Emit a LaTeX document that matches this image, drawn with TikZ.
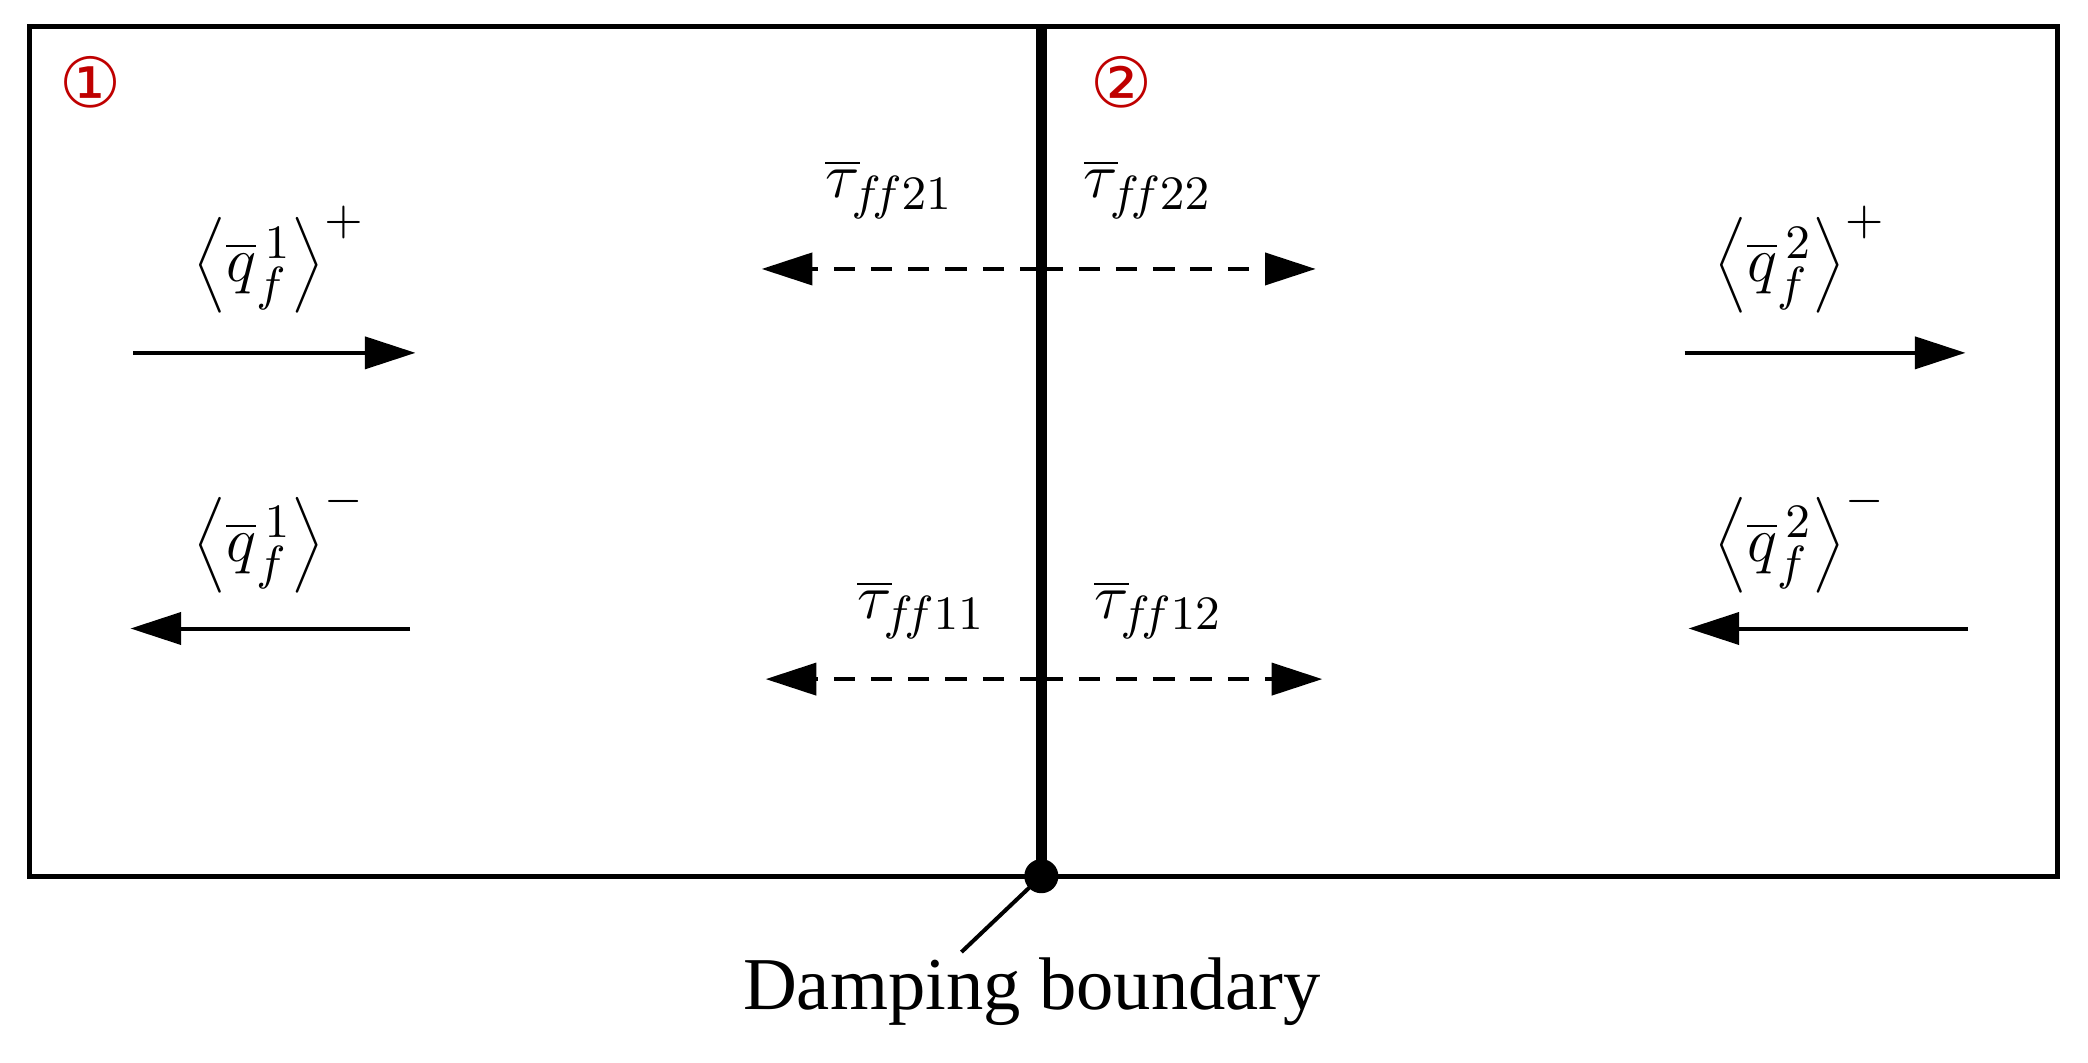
\documentclass[tikz,border=0pt]{standalone}
\usepackage{fontspec}
\setmainfont{Liberation Serif}
\newfontfamily\symf{DejaVu Sans}
\usetikzlibrary{arrows.meta}
\begin{document}
\begin{tikzpicture}[x=0.25pt,y=-0.25pt,
  arr/.style={line width=0.75pt,-{Triangle[length=9.5pt,width=6pt]}},
  darr/.style={arr,dashed,dash pattern=on 4pt off 3pt},
  lbl/.style={font=\fontsize{13}{15}\selectfont},
  num/.style={font=\symf\fontsize{13}{15}\selectfont,text=red!75!black}]
\useasboundingbox (0,0) rectangle (1568,798);
\draw[line width=1pt] (22,20) rectangle (1545,658);
\coordinate (top) at (782,20);
\coordinate (bot) at (782,658);
\draw[line width=2pt] (top) -- (bot);
\fill (bot) circle (3.2pt);
\coordinate (lead) at (722,715);
\draw[line width=0.75pt] (bot) -- (lead);
\node[lbl,font=\fontsize{14}{16}\selectfont] (db) at (775,745) {Damping boundary};
\node[num] (n1) at (68,62) {①};
\node[num] (n2) at (842,62) {②};
% solid arrows
\coordinate (a1s) at (100,265); \coordinate (a1e) at (312,265);
\coordinate (a2s) at (308,472); \coordinate (a2e) at (98,472);
\coordinate (a3s) at (1265,265); \coordinate (a3e) at (1476,265);
\coordinate (a4s) at (1478,472); \coordinate (a4e) at (1268,472);
\draw[arr] (a1s) -- (a1e);
\draw[arr] (a2s) -- (a2e);
\draw[arr] (a3s) -- (a3e);
\draw[arr] (a4s) -- (a4e);
\node[lbl] (q1p) at (210,195) {$\left\langle \overline{q}_f^{\,1}\right\rangle^{+}$};
\node[lbl] (q1m) at (210,405) {$\left\langle \overline{q}_f^{\,1}\right\rangle^{-}$};
\node[lbl] (q2p) at (1352,195) {$\left\langle \overline{q}_f^{\,2}\right\rangle^{+}$};
\node[lbl] (q2m) at (1352,405) {$\left\langle \overline{q}_f^{\,2}\right\rangle^{-}$};
% dashed arrows
\coordinate (m1) at (782,202); \coordinate (m2) at (782,510);
\coordinate (d1) at (572,202); \coordinate (d2) at (988,202);
\coordinate (d3) at (575,510); \coordinate (d4) at (993,510);
\draw[darr] (m1) -- (d1);
\draw[darr] (m1) -- (d2);
\draw[darr] (m2) -- (d3);
\draw[darr] (m2) -- (d4);
\node[lbl] (t21) at (668,142) {$\overline{\tau}_{\!f\!f21}$};
\node[lbl] (t22) at (862,142) {$\overline{\tau}_{\!f\!f22}$};
\node[lbl] (t11) at (692,458) {$\overline{\tau}_{\!f\!f11}$};
\node[lbl] (t12) at (870,458) {$\overline{\tau}_{\!f\!f12}$};
\end{tikzpicture}
\end{document}
